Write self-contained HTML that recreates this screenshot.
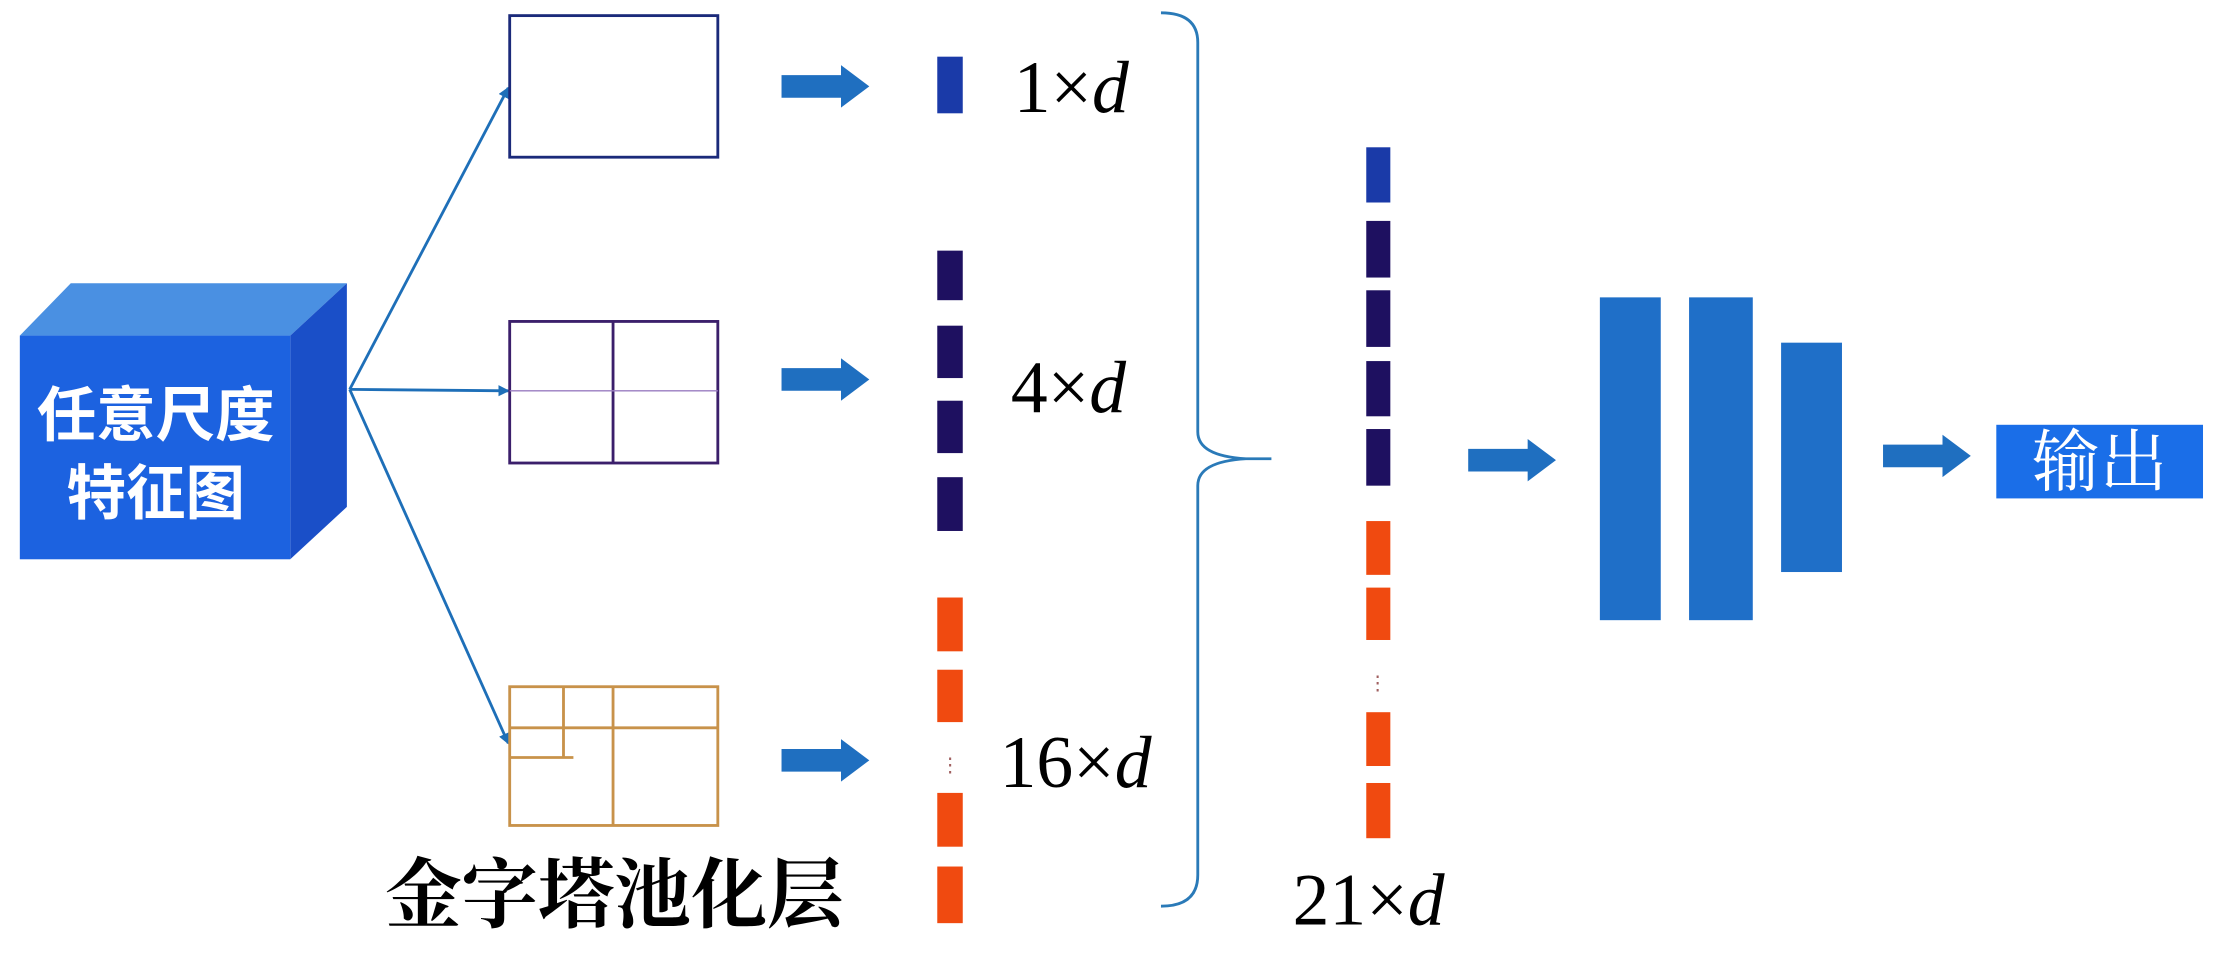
<!DOCTYPE html>
<html><head><meta charset="utf-8"><style>
html,body{margin:0;padding:0;background:#fff;}
svg{display:block;}
</style></head><body>
<svg width="2220" height="977" viewBox="0 0 1568 690" xmlns="http://www.w3.org/2000/svg">
<defs>
<marker id="ah" markerWidth="8" markerHeight="8" refX="7" refY="4" orient="auto" markerUnits="userSpaceOnUse"><path d="M0,0 L8,4 L0,8 z" fill="#1e6fb8"/></marker>
<g id="barrow"><path d="M0,-8 L42,-8 L42,-15 L62,0 L42,15 L42,8 L0,8 z" fill="#1f6fc0"/></g>
</defs>
<!-- cube -->
<polygon points="14,237 50,200 245,200 205,237" fill="#4a90e2"/>
<polygon points="205,237 245,200 245,358 205,395" fill="#1a4fc8"/>
<rect x="14" y="237" width="191" height="158" fill="#1c62e0"/>
<text x="110" y="308" font-family="Liberation Sans,'Noto Sans CJK SC',sans-serif" font-size="42" font-weight="bold" fill="#fff" text-anchor="middle">任意尺度</text>
<text x="110" y="363" font-family="Liberation Sans,'Noto Sans CJK SC',sans-serif" font-size="42" font-weight="bold" fill="#fff" text-anchor="middle">特征图</text>
<!-- connectors -->
<g stroke="#1e6fb8" stroke-width="2" fill="none">
<line x1="247" y1="275" x2="359" y2="62" marker-end="url(#ah)"/>
<line x1="247" y1="275" x2="359" y2="276" marker-end="url(#ah)"/>
<line x1="247" y1="275" x2="359" y2="525" marker-end="url(#ah)"/>
</g>
<!-- boxes -->
<rect x="360" y="11" width="147" height="100" fill="none" stroke="#1b2a7a" stroke-width="2"/>
<rect x="360" y="227" width="147" height="100" fill="none" stroke="#3b1f6b" stroke-width="2"/>
<line x1="433" y1="227" x2="433" y2="327" stroke="#3b1f6b" stroke-width="2"/>
<line x1="360" y1="276" x2="507" y2="276" stroke="#9a7cc0" stroke-width="1"/>
<g stroke="#c8924a" stroke-width="2" fill="none">
<rect x="360" y="485" width="147" height="98"/>
<line x1="433" y1="485" x2="433" y2="583"/>
<line x1="360" y1="514" x2="507" y2="514"/>
<line x1="398" y1="485" x2="398" y2="535"/>
<line x1="360" y1="535" x2="405" y2="535"/>
</g>
<!-- block arrows -->
<use href="#barrow" x="552" y="61"/>
<use href="#barrow" x="552" y="268"/>
<use href="#barrow" x="552" y="537"/>
<use href="#barrow" x="1037" y="325"/>
<use href="#barrow" x="1330" y="322"/>
<!-- col1 bars -->
<rect x="662" y="40" width="18" height="40" fill="#1a3aa8"/>
<g fill="#1e1060">
<rect x="662" y="177" width="18" height="35"/><rect x="662" y="230" width="18" height="37"/>
<rect x="662" y="283" width="18" height="37"/><rect x="662" y="337" width="18" height="38"/>
</g>
<g fill="#f04a10">
<rect x="662" y="422" width="18" height="38"/><rect x="662" y="473" width="18" height="37"/>
<rect x="662" y="560" width="18" height="38"/><rect x="662" y="612" width="18" height="40"/>
</g>
<text x="671" y="545" font-size="14" fill="#a06060" text-anchor="middle" font-family="Liberation Serif,serif">⋮</text>
<!-- labels -->
<g font-family="Liberation Serif,serif" font-size="52" fill="#000">
<text x="716" y="79">1×<tspan font-style="italic">d</tspan></text>
<text x="714" y="291">4×<tspan font-style="italic">d</tspan></text>
<text x="706" y="556">16×<tspan font-style="italic">d</tspan></text>
<text x="913" y="653">21×<tspan font-style="italic">d</tspan></text>
</g>
<text x="272" y="651" font-family="Liberation Serif,'Noto Serif CJK SC',serif" font-size="54" font-weight="bold" fill="#000">金字塔池化层</text>
<!-- brace -->
<path d="M820,9 Q846,9 846,30 L846,305 Q846,322 880,324 L898,324 M880,324 Q846,326 846,343 L846,618 Q846,640 820,640" fill="none" stroke="#2a7ab8" stroke-width="2"/>
<!-- col2 bars -->
<rect x="965" y="104" width="17" height="39" fill="#1a3aa8"/>
<g fill="#1e1060">
<rect x="965" y="156" width="17" height="40"/><rect x="965" y="205" width="17" height="40"/>
<rect x="965" y="255" width="17" height="39"/><rect x="965" y="303" width="17" height="40"/>
</g>
<g fill="#f04a10">
<rect x="965" y="368" width="17" height="38"/><rect x="965" y="415" width="17" height="37"/>
<rect x="965" y="503" width="17" height="38"/><rect x="965" y="553" width="17" height="39"/>
</g>
<text x="973" y="487" font-size="14" fill="#a06060" text-anchor="middle" font-family="Liberation Serif,serif">⋮</text>
<!-- FC -->
<g fill="#1f6fc8">
<rect x="1130" y="210" width="43" height="228"/>
<rect x="1193" y="210" width="45" height="228"/>
<rect x="1258" y="242" width="43" height="162"/>
</g>
<rect x="1410" y="300" width="146" height="52" fill="#1a6ee8"/>
<text x="1483" y="343" font-family="Liberation Serif,'Noto Serif CJK SC',serif" font-size="48" fill="#fff" text-anchor="middle">输出</text>
</svg>
</body></html>
